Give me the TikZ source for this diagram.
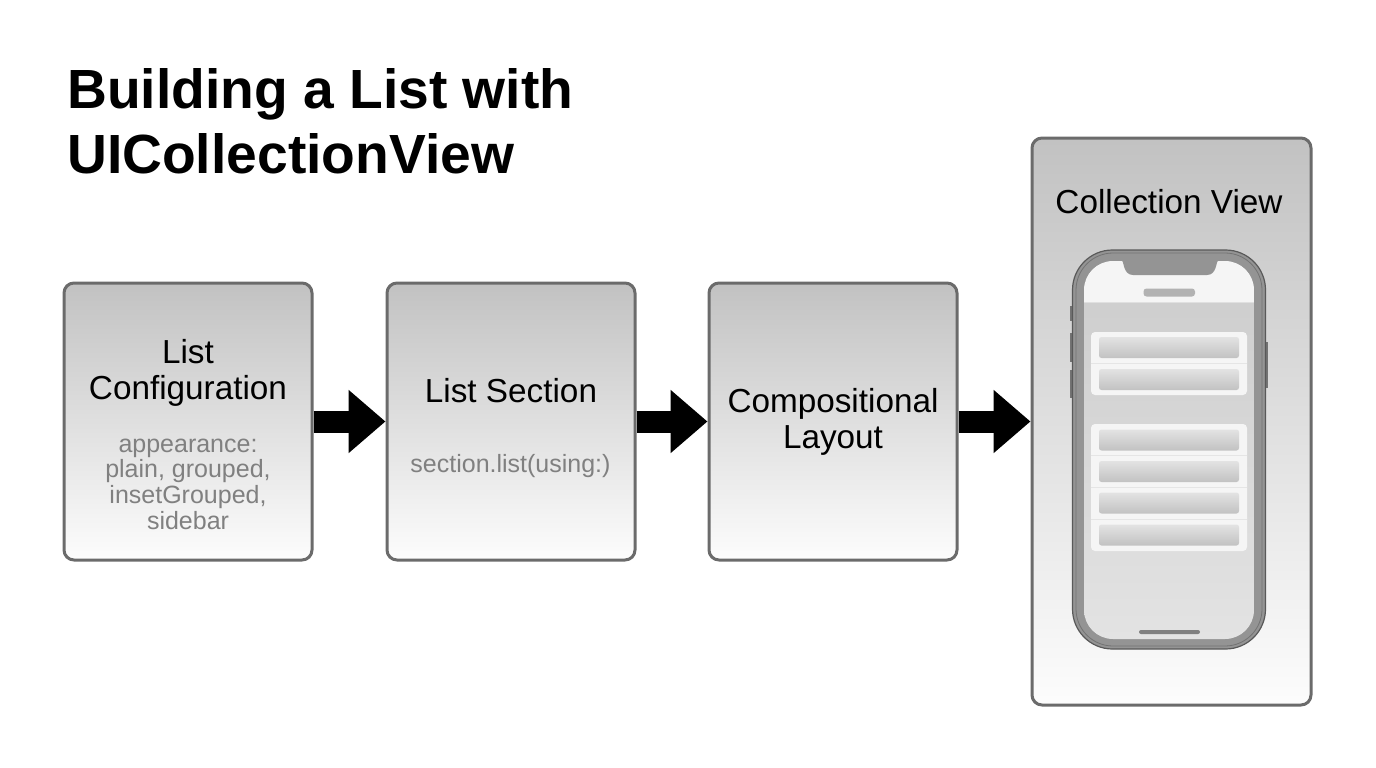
\documentclass[tikz,border=0pt]{standalone}
\usepackage{fontspec}
\setmainfont{Liberation Sans}
\usetikzlibrary{arrows.meta}
\definecolor{edgegray}{gray}{0.42}
\definecolor{subgray}{gray}{0.5}
\tikzset{
  stagebox/.style={draw=edgegray,line width=3pt,rounded corners=10pt,top color=black!24,bottom color=black!1,inner sep=0pt},
  headtext/.style={font=\fontsize{33.3}{36}\selectfont,align=center,text=black},
  subtext/.style={font=\fontsize{25}{25.7}\selectfont,align=center,text=subgray},
  fatarrow/.style={line width=22pt,-{Triangle[length=37pt,width=61pt]},black},
  rowbar/.style={rounded corners=2.5pt,top color=black!11,bottom color=black!24},
  sidekey/.style={fill=black!55}
}
\begin{document}
\begin{tikzpicture}[x=1pt,y=-1pt]
    \useasboundingbox (0,0) rectangle (1376,768);
    \node at (67,121) [anchor=west,inner sep=0pt,align=left,font=\fontsize{55.2}{65}\selectfont\bfseries] (title) {Building a List with\\UICollectionView};

    \node at (188,421.5) [stagebox,minimum width=248pt,minimum height=277pt] (config) {};
    \node at (511,421.5) [stagebox,minimum width=248pt,minimum height=277pt] (section) {};
    \node at (833,421.5) [stagebox,minimum width=248pt,minimum height=277pt] (layout) {};
    \node at (1171.5,421.5) [stagebox,minimum width=279pt,minimum height=567pt] (view) {};

    \node at (188,372.5) [headtext] (configlabel) {List\\Configuration};
    \node at (188,484) [subtext] (configsub) {appearance:\\plain, grouped,\\insetGrouped,\\sidebar};
    \node at (511,391) [headtext] (sectionlabel) {List Section};
    \node at (510.5,466) [subtext] (sectionsub) {section.list(using:)};
    \node at (833,421.5) [headtext] (layoutlabel) {Compositional\\Layout};
    \node at (1169,202) [headtext] (viewlabel) {Collection View};

    \draw[fatarrow] (config) -- (section);
    \draw[fatarrow] (section) -- (layout);
    \draw[fatarrow] (layout) -- (view);

    % side keys
    \fill[sidekey] (1070,306) rectangle (1073,321);
    \fill[sidekey] (1070,333) rectangle (1073,362);
    \fill[sidekey] (1070,370) rectangle (1073,398);
    \fill[sidekey] (1265,342) rectangle (1268,388);

    % phone
    \draw[draw=black!65,fill=black!42,line width=1.2pt,rounded corners=40pt] (1072.5,250) rectangle (1265.5,649);
    \draw[draw=black!55,line width=.8pt,rounded corners=37pt] (1076,253) rectangle (1262,646);
    \begin{scope}
        \clip[rounded corners=29pt] (1084,261) rectangle (1254,639);
        \shade[top color=black!19,bottom color=black!11] (1084,302) rectangle (1254,639);
        \fill[black!4] (1084,261) rectangle (1254,302);
        \draw[black!12,line width=1pt] (1084,302.5) -- (1254,302.5);
    \end{scope}
    \fill[black!42] (1120,259) -- (1122,261) .. controls (1124,261) and (1123,275) .. (1133,275) -- (1207,275) .. controls (1217,275) and (1216,261) .. (1218,261) -- (1220,259) -- cycle;
    \fill[black!30,rounded corners=3pt] (1143.5,288.5) rectangle (1195,296.5);
    \fill[black!50,rounded corners=2pt] (1139,630) rectangle (1200,634);

    % list groups
    \fill[white!96!black,rounded corners=4pt] (1091,332) rectangle (1247,395);
    \fill[white!96!black,rounded corners=4pt] (1091,424) rectangle (1247,551);
    \foreach \y in {363.5,455.5,487.5,519.5}
        \draw[black!10,line width=1pt] (1091,\y) -- (1247,\y);
    \foreach \y in {337,369,429.5,461,492.5,524.5}
        \shade[rowbar] (1099,\y) rectangle (1239,\y+21);
\end{tikzpicture}
\end{document}
